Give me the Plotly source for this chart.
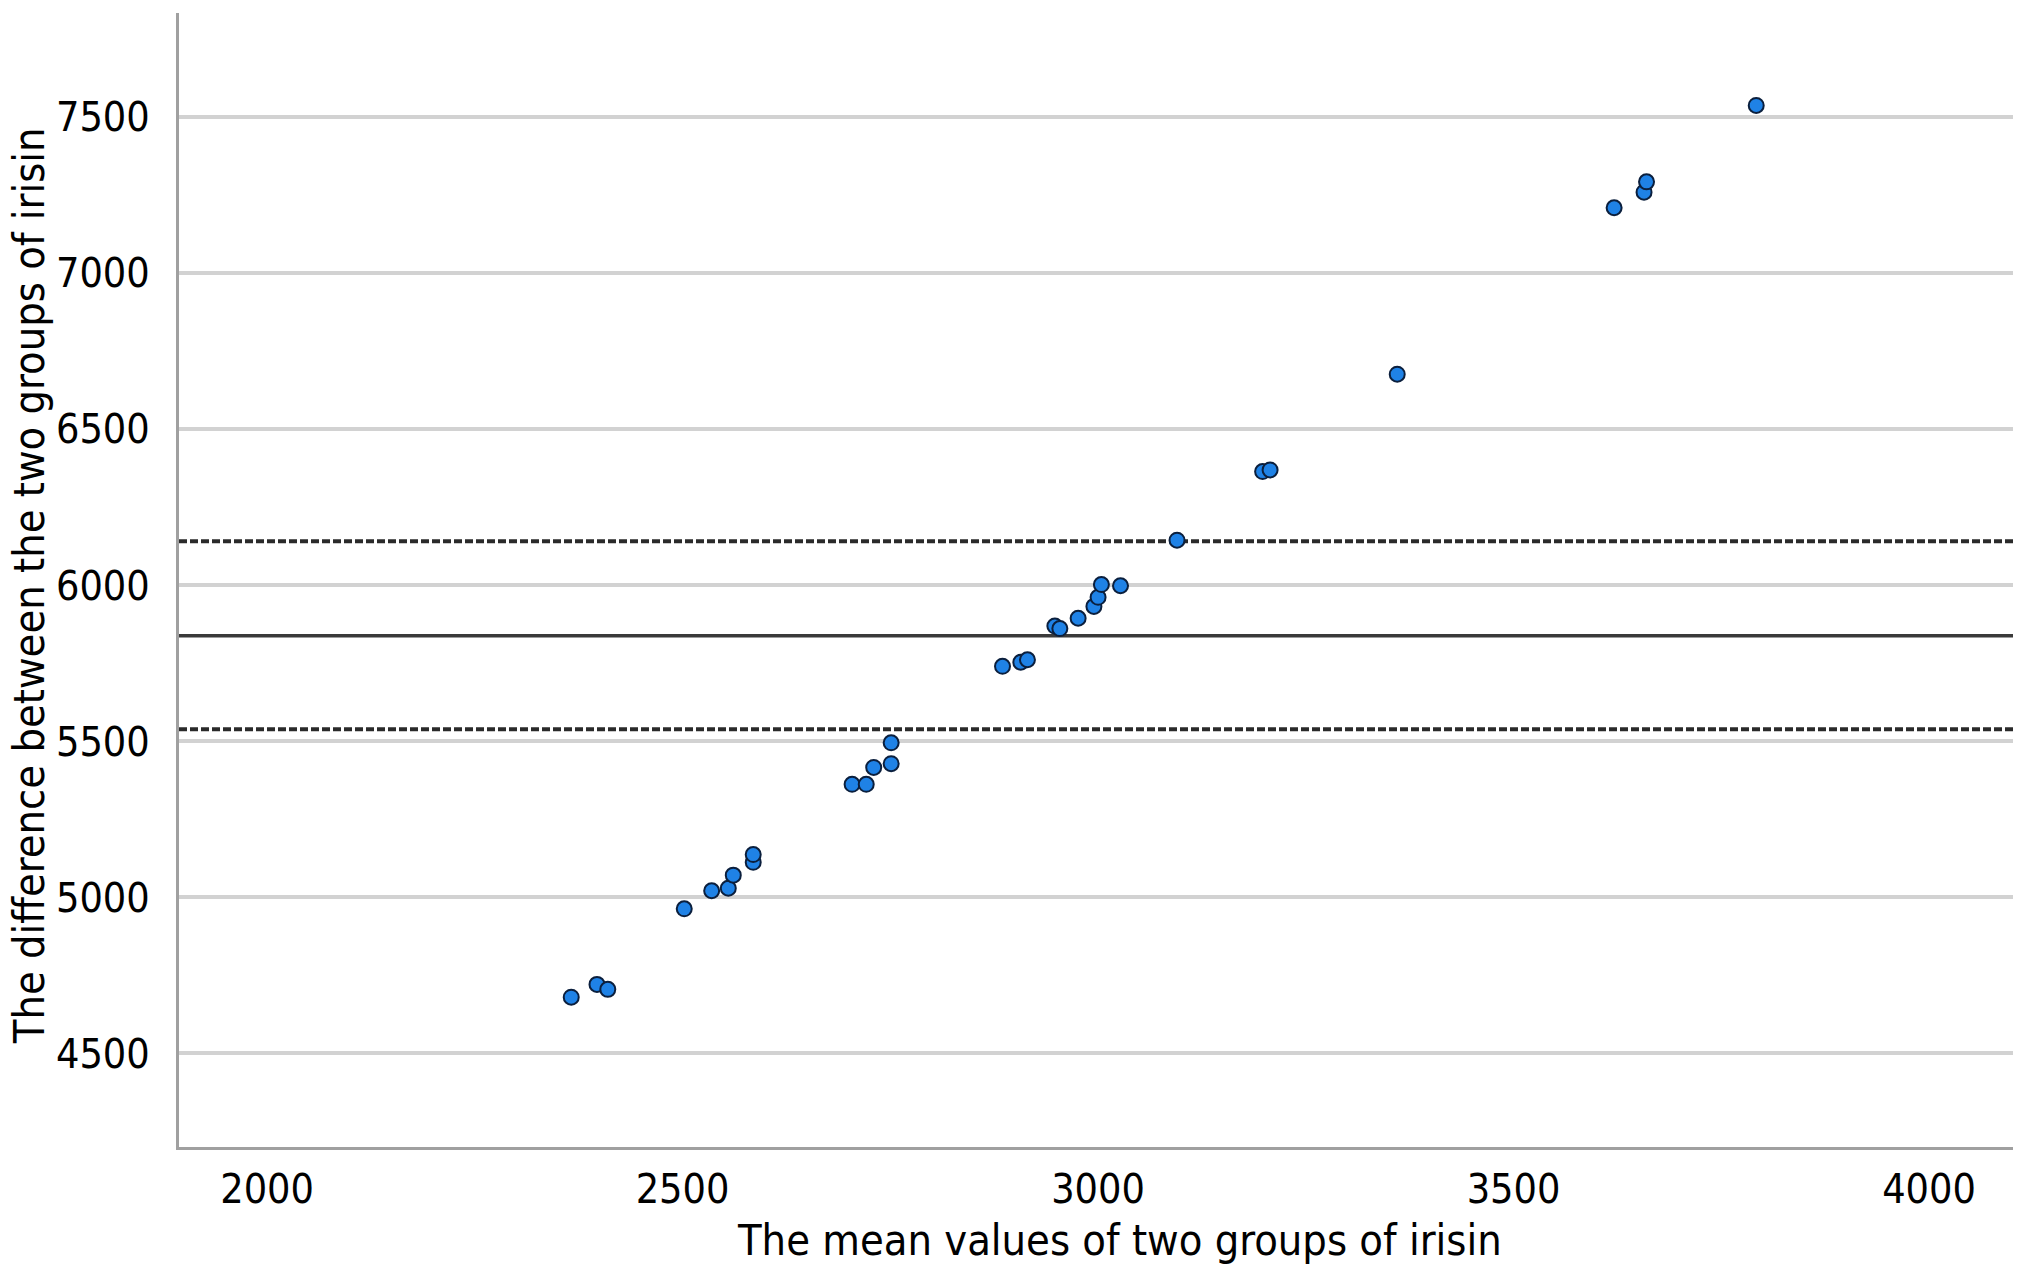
import plotly.graph_objects as go

# Data
mean_values = [2366, 2397, 2410, 2502, 2535, 2555, 2561, 2585, 2585, 2704, 2721,
               2730, 2751, 2751, 2885, 2907, 2915, 2948, 2954, 2976, 2995, 3000,
               3004, 3027, 3095, 3198, 3207, 3360, 3621, 3657, 3660, 3792]
differences = [4680, 4721, 4705, 4963, 5021, 5029, 5071, 5112, 5137, 5362, 5362,
               5416, 5428, 5495, 5740, 5753, 5761, 5869, 5861, 5894, 5932, 5961,
               6002, 5998, 6144, 6364, 6369, 6676, 7209, 7259, 7292, 7537]
mean_diff = 5838
upper_limit = 6141
lower_limit = 5538
x_ticks = [2000, 2500, 3000, 3500, 4000]
y_ticks = [4500, 5000, 5500, 6000, 6500, 7000, 7500]
x_title = "The mean values of two groups of irisin"
y_title = "The difference between the two groups of irisin"

FONT = "DejaVu Sans Condensed, DejaVu Sans, sans-serif"

fig = go.Figure()

fig.add_trace(go.Scatter(
    x=mean_values, y=differences, mode="markers",
    marker=dict(size=15, color="#1f82e6", line=dict(color="#0b1f3d", width=2)),
    showlegend=False, cliponaxis=False,
))

fig.add_hline(y=mean_diff, line=dict(color="#3a3a3a", width=3.5), layer="below")
fig.add_hline(y=upper_limit, line=dict(color="#2a2a2a", width=4, dash="8px,3px"), layer="below")
fig.add_hline(y=lower_limit, line=dict(color="#2a2a2a", width=4, dash="8px,3px"), layer="below")

fig.add_annotation(text=x_title, xref="paper", yref="paper", x=0.513, y=0,
                   xanchor="center", yanchor="middle", yshift=-93, showarrow=False,
                   font=dict(family=FONT, size=43, color="black"))
fig.add_annotation(text=y_title, xref="paper", yref="paper", x=0, y=0.4945,
                   xanchor="center", yanchor="middle", xshift=-150, textangle=-90,
                   showarrow=False, font=dict(family=FONT, size=43, color="black"))

fig.update_layout(
    width=2037, height=1267,
    margin=dict(l=179, r=24, t=13, b=120),
    plot_bgcolor="white", paper_bgcolor="white",
    font=dict(family=FONT, size=40, color="black"),
    xaxis=dict(
        range=[1894, 4101], tickvals=x_ticks, ticks="", showgrid=False,
        zeroline=False, showline=True, linecolor="#a0a0a0", linewidth=3,
        tickfont=dict(family=FONT, size=41), ticklabelstandoff=4,
    ),
    yaxis=dict(
        range=[4200, 7833], tickvals=y_ticks, ticks="", showgrid=True,
        gridcolor="#d2d2d2", gridwidth=4,
        zeroline=False, showline=True, linecolor="#a0a0a0", linewidth=3,
        tickfont=dict(family=FONT, size=41), ticklabelstandoff=18,
    ),
)

fig.write_html("out.html")
